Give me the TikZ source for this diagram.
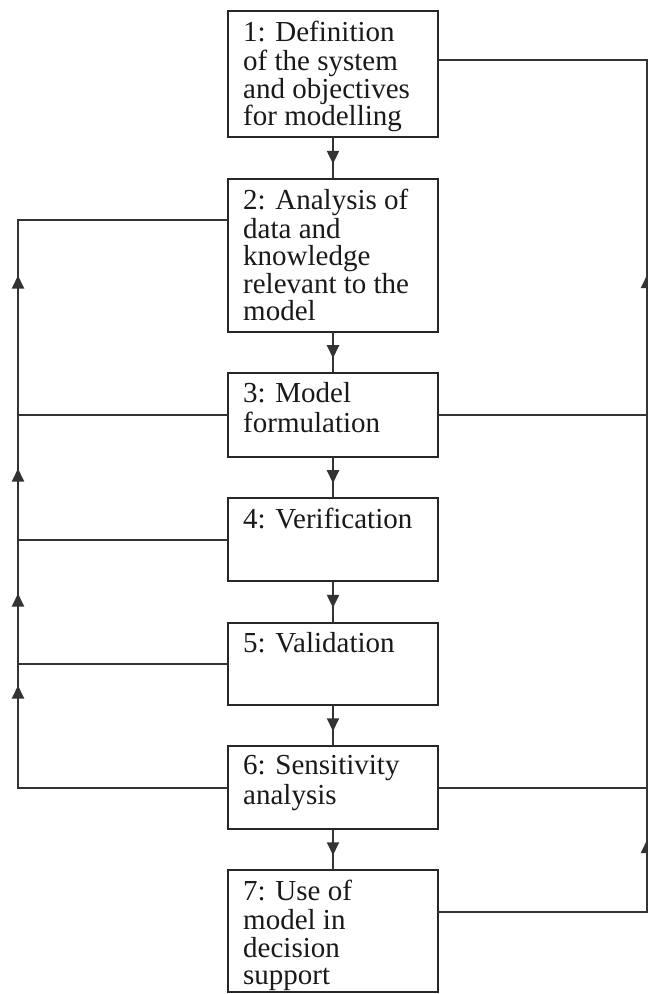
\documentclass[tikz,border=0pt]{standalone}
\usepackage{fontspec}
\setmainfont{Liberation Serif}
\usetikzlibrary{arrows.meta,decorations.markings}
\begin{document}
\begin{tikzpicture}[x=1pt,y=-1pt,
  >={Triangle[length=13pt,width=12pt]},
  box/.style={draw=black!85, line width=2.2pt, minimum width=210pt,
    inner sep=0pt, outer sep=0pt, anchor=north west},
  steptext/.style={anchor=north west, inner sep=0pt, align=left,
    font=\fontsize{29}{27.5}\selectfont, text=black!90},
  link/.style={line width=2pt, draw=black!80},
  midarrow/.style={postaction={decorate}, decoration={markings,
    mark=at position 0.64 with {\arrow{>}}}},
]
\useasboundingbox (0,0) rectangle (648,994);

% process boxes
\node[box, minimum height=126pt] (b1) at (228,11)  {};
\node[box, minimum height=153pt] (b2) at (228,179) {};
\node[box, minimum height=84pt]  (b3) at (228,373) {};
\node[box, minimum height=83pt]  (b4) at (228,498) {};
\node[box, minimum height=82pt]  (b5) at (228,623) {};
\node[box, minimum height=83pt]  (b6) at (228,746) {};
\node[box, minimum height=122pt] (b7) at (228,870) {};

% box captions, top aligned
\node[steptext] (t1) at (243,20.5)  {\strut 1: Definition\\of the system\\and objectives\\for modelling};
\node[steptext] (t2) at (243,188.5) {\strut 2: Analysis of\\data and\\knowledge\\relevant to the\\model};
\node[steptext] (t3) at (243,382.5) {\strut 3: Model\\formulation};
\node[steptext] (t4) at (243,507.5) {\strut 4: Verification};
\node[steptext] (t5) at (243,632.5) {\strut 5: Validation};
\node[steptext] (t6) at (243,755.5) {\strut 6: Sensitivity\\analysis};
\node[steptext] (t7) at (243,879.5) {\strut 7: Use of\\model in\\decision\\support};

% main sequence
\foreach \a/\b in {b1/b2,b2/b3,b3/b4,b4/b5,b5/b6,b6/b7}
  \draw[link, midarrow] (\a.south) -- (\b.north);

% left feedback loop (first leg is 210pt long)
\coordinate (lx) at (18,0);
\coordinate (l2) at (18,220);
\draw[link, postaction={decorate}, decoration={markings,
    mark=at position 312pt with {\arrow{>}},
    mark=at position 404pt with {\arrow{>}},
    mark=at position 529pt with {\arrow{>}},
    mark=at position 722pt with {\arrow{>}}}]
  (b6.west) -- (b6.west -| lx) -- (l2) -- (b2.west |- l2);
\foreach \b in {b3,b4,b5}
  \draw[link] (\b.west) -- (\b.west -| lx);

% right feedback loop (first leg is 209pt long)
\coordinate (rx) at (647,0);
\coordinate (r1) at (647,60);
\coordinate (r7) at (647,912);
\draw[link, postaction={decorate}, decoration={markings,
    mark=at position 281pt with {\arrow{>}},
    mark=at position 846pt with {\arrow{>}}}]
  (b7.east |- r7) -- (r7) -- (r1) -- (b1.east |- r1);
\foreach \b in {b3,b6}
  \draw[link] (\b.east) -- (\b.east -| rx);
\end{tikzpicture}
\end{document}
